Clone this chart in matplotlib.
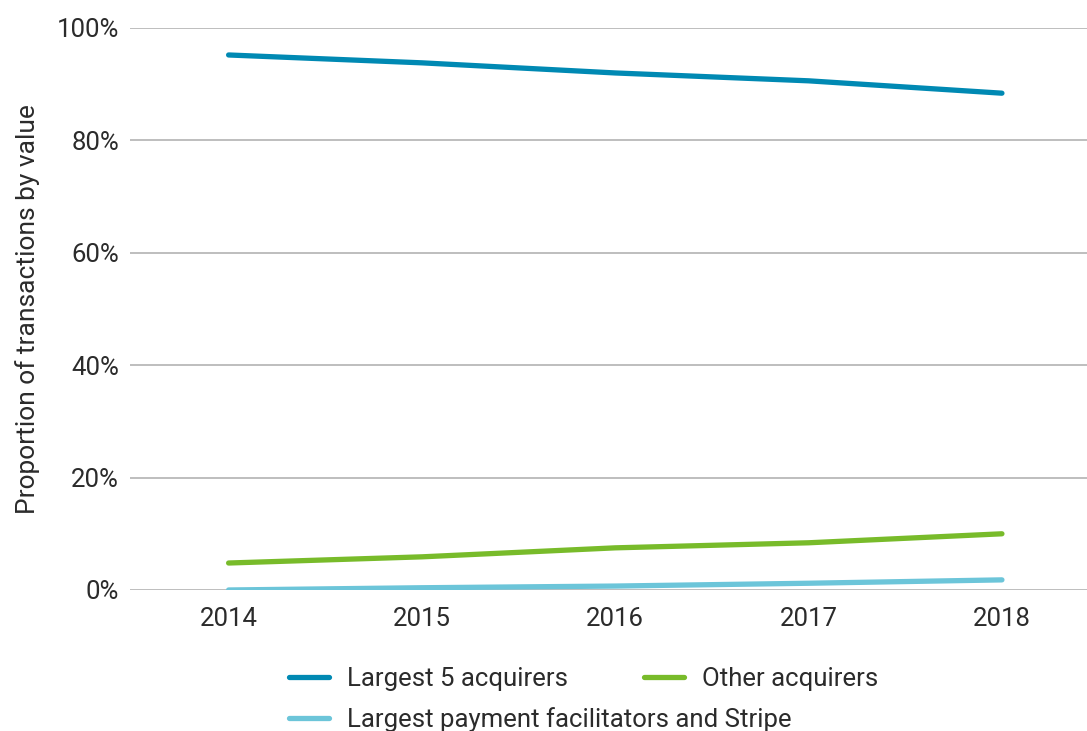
import numpy as np
import matplotlib.pyplot as plt
from matplotlib.ticker import FuncFormatter
from matplotlib.lines import Line2D

plt.rcParams['font.family'] = ['Roboto', 'DejaVu Sans']

years = [2014, 2015, 2016, 2017, 2018]
largest5 = [95.2, 93.8, 92.0, 90.6, 88.4]
otherAcq = [4.8, 5.9, 7.5, 8.4, 10.0]
payFac = [0.0, 0.4, 0.7, 1.2, 1.8]

fig = plt.figure(figsize=(10.87, 7.31), dpi=100)
ax = fig.add_axes([0.1196, 0.1929, 0.8804, 0.7688])

txtColor = '#2b2b2b'
fs = 18.5
c1, c2, c3 = '#0089B3', '#78BB2A', '#6CC5D9'
ax.plot(years, largest5, color=c1, lw=3.8, solid_capstyle='round', zorder=3)
ax.plot(years, payFac, color=c3, lw=3.8, solid_capstyle='round', zorder=3)
ax.plot(years, otherAcq, color=c2, lw=3.8, solid_capstyle='round', zorder=3)

ax.set_ylim(0, 100)
ax.set_xlim(2013.49, 2018.44)
ax.set_yticks(np.arange(0, 101, 20))
ax.yaxis.set_major_formatter(FuncFormatter(lambda v, p: '%d%%' % v))
ax.set_xticks(years)
ax.grid(axis='y', color='#b3b3b3', lw=1.2)
ax.set_axisbelow(True)
for s in ax.spines.values():
    s.set_visible(False)
ax.tick_params(length=0, labelsize=fs, labelcolor=txtColor, pad=12)
ax.tick_params(axis='y', pad=8)
ax.set_ylabel('Proportion of transactions by value', fontsize=19, color=txtColor, labelpad=12)

# legend: two rows, placed like the original
def handle(c):
    return Line2D([], [], color=c, lw=3.8, solid_capstyle='round')

legArgs = dict(loc='center left', frameon=False, fontsize=fs, handlelength=1.55,
               handletextpad=0.7, borderaxespad=0, borderpad=0, labelcolor=txtColor)
leg1 = fig.legend([handle(c1), handle(c2)], ['Largest 5 acquirers', 'Other acquirers'],
                  bbox_to_anchor=(0.266, 0.0705), ncol=2, columnspacing=2.95, **legArgs)
leg2 = fig.legend([handle(c3)], ['Largest payment facilitators and Stripe'],
                  bbox_to_anchor=(0.266, 0.016), **legArgs)

fig.savefig('out.png', dpi=100)
